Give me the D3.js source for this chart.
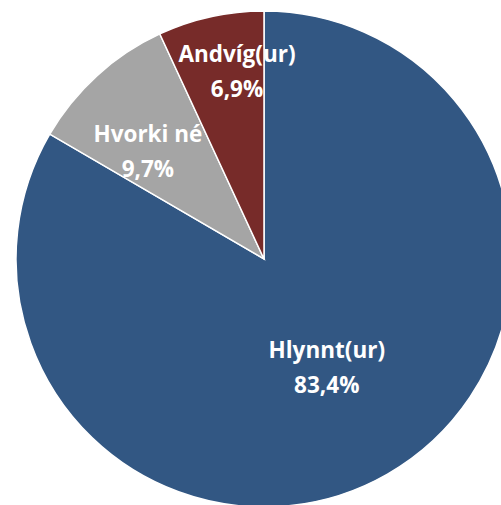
<!DOCTYPE html>
<html>
<head>
<meta charset="utf-8">
<script src="https://cdn.jsdelivr.net/npm/d3@7"></script>
<style>
  body { margin: 0; background: #fff; }
  text { font-family: "Open Sans", Lato, sans-serif; font-weight: bold; fill: #fff; }
</style>
</head>
<body>
<div id="chart"></div>
<script>
// data
var labels = ["Hlynnt(ur)", "Hvorki né", "Andvíg(ur)"];
var values = [83.4, 9.7, 6.9];
var colors = ["#325783", "#a5a5a5", "#772b29"];

// label placement (fraction of radius, angle nudge in degrees)
var labelRadius = [0.508, 0.637, 0.762];
var labelNudge = [0, -5, 4.2];

var width = 501, height = 505;
var cx = 264, cy = 259, radius = 248;

var svg = d3.select("#chart").append("svg")
    .attr("width", width)
    .attr("height", height);

var g = svg.append("g")
    .attr("transform", "translate(" + cx + "," + cy + ")");

var pie = d3.pie().sort(null).value(function (d) { return d; });
var arcs = pie(values);

var arc = d3.arc().innerRadius(0).outerRadius(radius);

g.selectAll("path.slice")
    .data(arcs)
    .enter().append("path")
    .attr("class", "slice")
    .attr("d", arc)
    .attr("fill", function (d, i) { return colors[i]; })
    .attr("stroke", "#fff")
    .attr("stroke-width", 1.5);

var fmt = function (v) { return d3.format(".1f")(v).replace(".", ",") + "%"; };

var lab = g.selectAll("g.lab")
    .data(arcs)
    .enter().append("g")
    .attr("class", "lab")
    .attr("transform", function (d, i) {
        var a = (d.startAngle + d.endAngle) / 2 + labelNudge[i] * Math.PI / 180;
        var r = radius * labelRadius[i];
        return "translate(" + (r * Math.sin(a)) + "," + (-r * Math.cos(a)) + ")";
    });

lab.append("text")
    .attr("text-anchor", "middle")
    .attr("y", -10)
    .style("font-size", "22.5px")
    .text(function (d, i) { return labels[i]; });

lab.append("text")
    .attr("text-anchor", "middle")
    .attr("y", 25)
    .style("font-size", "22.5px")
    .text(function (d) { return fmt(d.value); });
</script>
</body>
</html>
